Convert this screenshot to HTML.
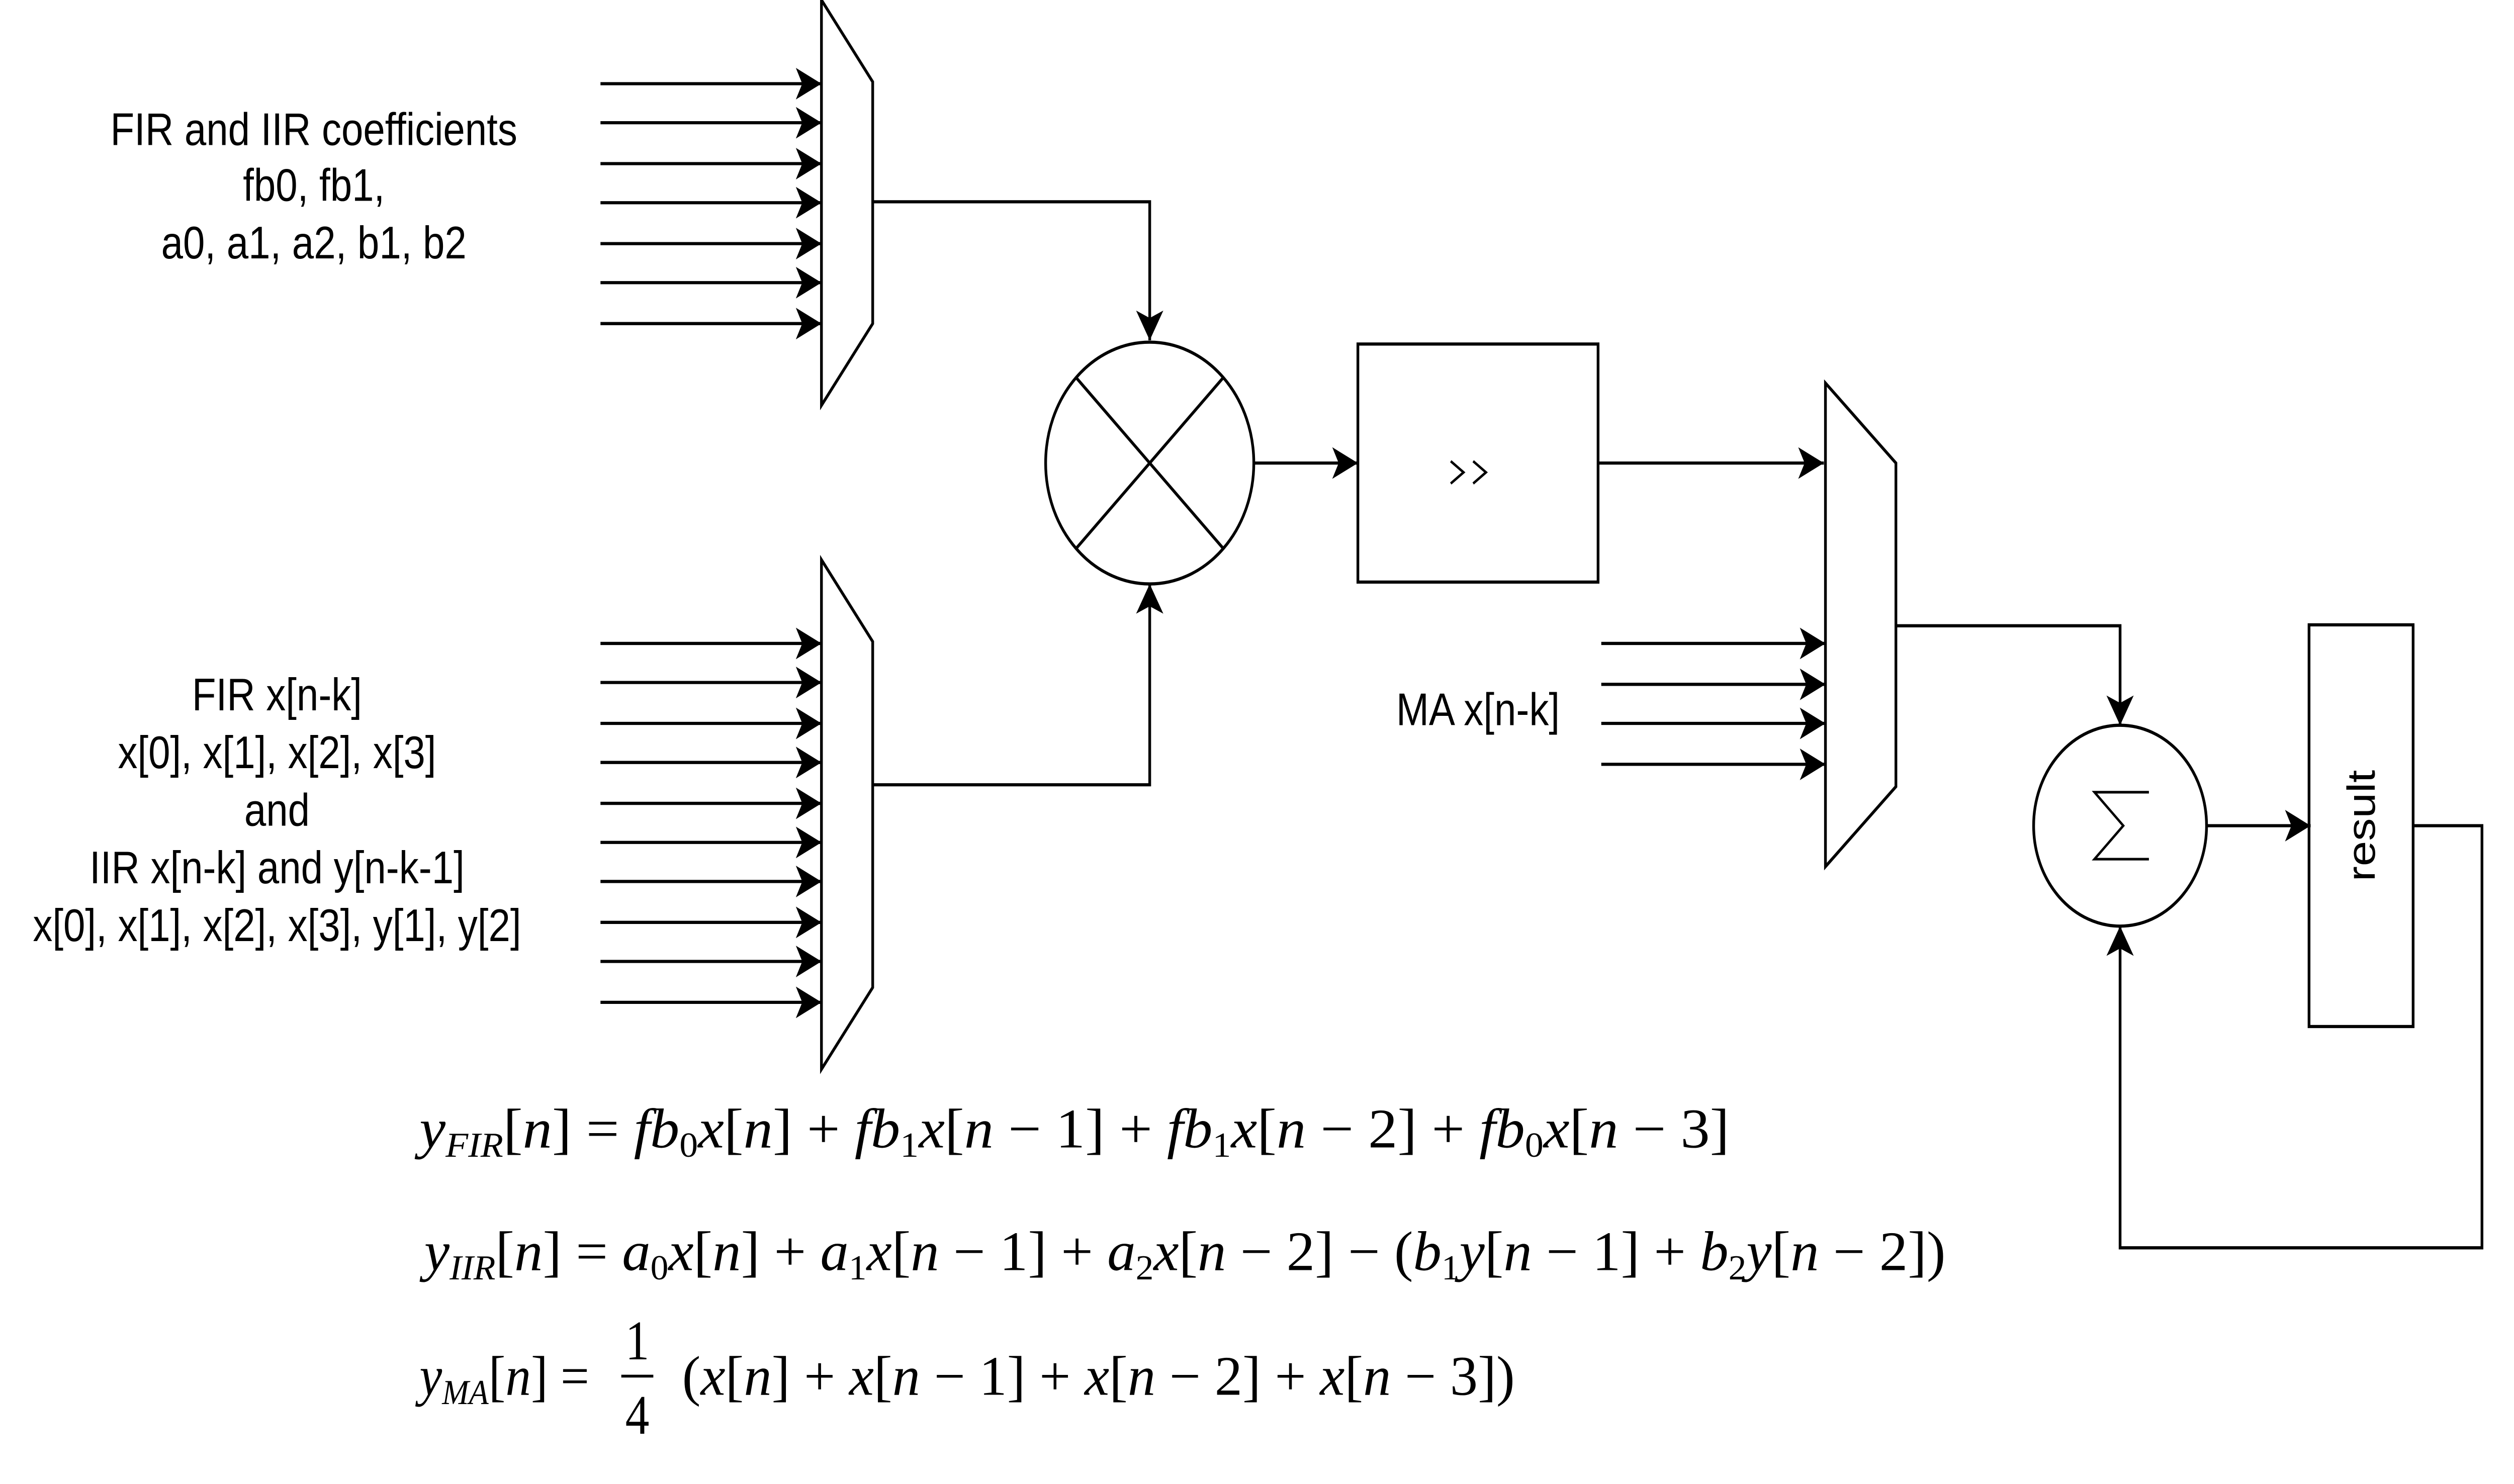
<!DOCTYPE html>
<html><head><meta charset="utf-8"><style>
html,body{margin:0;padding:0;background:#fff;overflow:hidden;width:100vw;height:100vh;}
svg{display:block;position:absolute;left:0;top:0;width:100vw;height:100vh;}
</style></head><body>
<svg viewBox="0 0 1570 798" preserveAspectRatio="none" xmlns="http://www.w3.org/2000/svg">
<defs>
<marker id="a" markerUnits="userSpaceOnUse" viewBox="0 -9 16 18" refX="16" refY="0" markerWidth="16" markerHeight="18" orient="auto">
<path d="M0,-8.5 L16,0 L0,8.5 L4,0 Z" fill="#000"/>
</marker>
</defs>
<g fill="none" stroke="#000" stroke-width="1.7">
<polygon points="513,0 545,44 545,174 513,218" fill="#fff"/>
<g marker-end="url(#a)">
<path d="M375,45 H513"/><path d="M375,66 H513"/><path d="M375,88 H513"/><path d="M375,109 H513"/><path d="M375,131 H513"/><path d="M375,152 H513"/><path d="M375,174 H513"/>
</g>
<path d="M545,108.5 H718 V183" marker-end="url(#a)"/>
<polygon points="513,301 545,345 545,531 513,575" fill="#fff"/>
<g marker-end="url(#a)">
<path d="M375,346 H513"/><path d="M375,367 H513"/><path d="M375,389 H513"/><path d="M375,410 H513"/><path d="M375,432 H513"/><path d="M375,453 H513"/><path d="M375,474 H513"/><path d="M375,496 H513"/><path d="M375,517 H513"/><path d="M375,539 H513"/>
</g>
<path d="M545,422 H718 V314" marker-end="url(#a)"/>
<circle cx="718" cy="249" r="65"/>
<path d="M672,203 L764,295 M764,203 L672,295"/>
<path d="M783,249 H848" marker-end="url(#a)"/>
<rect x="848" y="185" width="150" height="128"/>
<path d="M906,248 L914,254 L906,260 M920,248 L928,254 L920,260" stroke-width="1.4"/>
<path d="M998,249 H1139" marker-end="url(#a)"/>
<polygon points="1140,206 1184,249 1184,423 1140,466" fill="#fff"/>
<g marker-end="url(#a)">
<path d="M1000,346 H1140"/><path d="M1000,368 H1140"/><path d="M1000,389 H1140"/><path d="M1000,411 H1140"/>
</g>
<path d="M1184,336.5 H1324 V390" marker-end="url(#a)"/>
<circle cx="1324" cy="444" r="54"/>
<path d="M1342,426 H1308 L1326,444 L1308,462 H1342" stroke-width="1.4"/>
<path d="M1378,444 H1443" marker-end="url(#a)"/>
<rect x="1442" y="336" width="65" height="216"/>
<path d="M1507,444 H1550 V671 H1324 V498" marker-end="url(#a)"/>
</g>
<g font-family="'Liberation Sans', Arial, sans-serif" font-size="24.5" text-anchor="middle" fill="#000">
<text x="196" y="78">FIR and IIR coefficients</text>
<text x="196" y="108">fb0, fb1,</text>
<text x="196" y="139">a0, a1, a2, b1, b2</text>
<text x="173" y="382">FIR x[n-k]</text>
<text x="173" y="413">x[0], x[1], x[2], x[3]</text>
<text x="173" y="444">and</text>
<text x="173" y="475">IIR x[n-k] and y[n-k-1]</text>
<text x="173" y="506">x[0], x[1], x[2], x[3], y[1], y[2]</text>
<text x="923" y="390">MA x[n-k]</text>
<text x="0" y="0" transform="translate(1483,444) rotate(-90)">result</text>
</g>
<g font-family="'Liberation Serif', 'DejaVu Serif', serif" font-size="30" fill="#000">
<text x="262" y="617" textLength="818" lengthAdjust="spacingAndGlyphs"><tspan font-style="italic">y</tspan><tspan font-size="19" font-style="italic" dy="5">FIR</tspan><tspan dy="-5">[</tspan><tspan font-style="italic">n</tspan>] = <tspan font-style="italic">fb</tspan><tspan font-size="19" dy="5">0</tspan><tspan font-style="italic" dy="-5">x</tspan>[<tspan font-style="italic">n</tspan>] + <tspan font-style="italic">fb</tspan><tspan font-size="19" dy="5">1</tspan><tspan font-style="italic" dy="-5">x</tspan>[<tspan font-style="italic">n</tspan> − 1] + <tspan font-style="italic">fb</tspan><tspan font-size="19" dy="5">1</tspan><tspan font-style="italic" dy="-5">x</tspan>[<tspan font-style="italic">n</tspan> − 2] + <tspan font-style="italic">fb</tspan><tspan font-size="19" dy="5">0</tspan><tspan font-style="italic" dy="-5">x</tspan>[<tspan font-style="italic">n</tspan> − 3]</text>
<text x="265" y="683" textLength="950" lengthAdjust="spacingAndGlyphs"><tspan font-style="italic">y</tspan><tspan font-size="19" font-style="italic" dy="5">IIR</tspan><tspan dy="-5">[</tspan><tspan font-style="italic">n</tspan>] = <tspan font-style="italic">a</tspan><tspan font-size="19" dy="5">0</tspan><tspan font-style="italic" dy="-5">x</tspan>[<tspan font-style="italic">n</tspan>] + <tspan font-style="italic">a</tspan><tspan font-size="19" dy="5">1</tspan><tspan font-style="italic" dy="-5">x</tspan>[<tspan font-style="italic">n</tspan> − 1] + <tspan font-style="italic">a</tspan><tspan font-size="19" dy="5">2</tspan><tspan font-style="italic" dy="-5">x</tspan>[<tspan font-style="italic">n</tspan> − 2] − (<tspan font-style="italic">b</tspan><tspan font-size="19" dy="5">1</tspan><tspan font-style="italic" dy="-5">y</tspan>[<tspan font-style="italic">n</tspan> − 1] + <tspan font-style="italic">b</tspan><tspan font-size="19" dy="5">2</tspan><tspan font-style="italic" dy="-5">y</tspan>[<tspan font-style="italic">n</tspan> − 2])</text>
<text x="262" y="750" textLength="106" lengthAdjust="spacingAndGlyphs"><tspan font-style="italic">y</tspan><tspan font-size="19" font-style="italic" dy="5">MA</tspan><tspan dy="-5">[</tspan><tspan font-style="italic">n</tspan>] =</text>
<text x="398" y="731" text-anchor="middle">1</text>
<text x="398" y="771" text-anchor="middle">4</text>
<text x="426" y="750" textLength="520" lengthAdjust="spacingAndGlyphs">(<tspan font-style="italic">x</tspan>[<tspan font-style="italic">n</tspan>] + <tspan font-style="italic">x</tspan>[<tspan font-style="italic">n</tspan> − 1] + <tspan font-style="italic">x</tspan>[<tspan font-style="italic">n</tspan> − 2] + <tspan font-style="italic">x</tspan>[<tspan font-style="italic">n</tspan> − 3])</text>
</g>
<line x1="388" y1="740" x2="408" y2="740" stroke="#000" stroke-width="1.5"/>
</svg>
</body></html>
